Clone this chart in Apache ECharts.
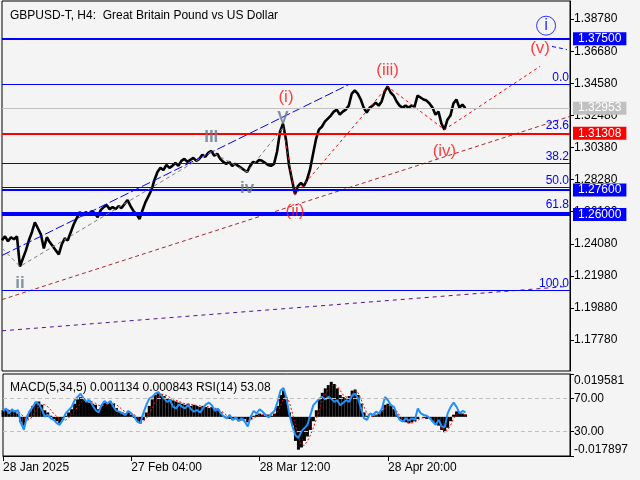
<!DOCTYPE html>
<html><head><meta charset="utf-8">
<script src="https://cdn.jsdelivr.net/npm/echarts@6/dist/echarts.min.js"></script>
<style>html,body{margin:0;padding:0;background:#f4f4f4}#c{width:640px;height:480px}</style>
</head><body><div id="c"></div>
<script>
const titleText = 'GBPUSD-T, H4:  Great Britain Pound vs US Dollar';
const indicatorText = 'MACD(5,34,5) 0.001134 0.000843 RSI(14) 53.08';
const categoryCount = 191;
const timeLabels = ['28 Jan 2025', '27 Feb 04:00', '28 Mar 12:00', '28 Apr 20:00'];
const timeLabelIdx = [0, 43, 86, 129];
const priceTicks = [1.17780, 1.19880, 1.21980, 1.24080, 1.26180, 1.28280, 1.30380, 1.32480, 1.34580, 1.36680, 1.38780];
const priceRange = [1.15761, 1.39964];
const rsiTicks = [30, 70];
const macdRange = [-0.017897, 0.019581];
const macdLabelAt = [-0.015155, 0.016382];

const price = [1.2431,1.2457,1.2425,1.2451,1.2438,1.2457,1.2260,1.2313,1.2365,1.2431,
1.2484,1.2549,1.2510,1.2470,1.2378,1.2451,1.2418,1.2392,1.2365,1.2339,
1.2405,1.2444,1.2431,1.2484,1.2536,1.2576,1.2615,1.2595,1.2615,1.2602,
1.2622,1.2609,1.2582,1.2628,1.2648,1.2661,1.2635,1.2648,1.2635,1.2655,
1.2642,1.2668,1.2694,1.2655,1.2622,1.2602,1.2569,1.2628,1.2681,1.2720,
1.2760,1.2826,1.2878,1.2905,1.2891,1.2924,1.2905,1.2918,1.2938,1.2918,
1.2951,1.2964,1.2944,1.2957,1.2970,1.2951,1.2964,1.2990,1.2977,1.3003,
1.3016,1.2984,1.2997,1.2964,1.2944,1.2931,1.2944,1.2918,1.2931,1.2918,
1.2905,1.2891,1.2878,1.2918,1.2944,1.2938,1.2957,1.2951,1.2938,1.2924,
1.2918,1.2931,1.3010,1.3141,1.3194,1.3089,1.2924,1.2826,1.2734,1.2786,
1.2806,1.2786,1.2826,1.2891,1.2990,1.3089,1.3155,1.3174,1.3207,1.3227,
1.3247,1.3273,1.3286,1.3253,1.3273,1.3286,1.3312,1.3391,1.3411,1.3391,
1.3352,1.3299,1.3266,1.3299,1.3312,1.3332,1.3312,1.3339,1.3404,1.3437,
1.3398,1.3378,1.3339,1.3312,1.3299,1.3312,1.3299,1.3312,1.3306,1.3378,
1.3365,1.3352,1.3345,1.3326,1.3299,1.3253,1.3273,1.3194,1.3155,1.3220,
1.3247,1.3326,1.3352,1.3299,1.3319,1.32953];

const macd = [0.0030,0.0035,0.0030,0.0025,0.0028,0.0015,-0.0025,-0.0040,-0.0010,0.0025,
0.0050,0.0065,0.0070,0.0055,0.0030,0.0020,0.0005,-0.0010,-0.0020,-0.0030,
-0.0015,0.0005,0.0020,0.0035,0.0060,0.0080,0.0090,0.0085,0.0070,0.0065,
0.0060,0.0055,0.0035,0.0050,0.0065,0.0060,0.0070,0.0060,0.0040,0.0025,
0.0020,0.0015,0.0020,0.0010,-0.0005,-0.0020,-0.0030,-0.0015,0.0020,0.0050,
0.0080,0.0100,0.0110,0.0105,0.0095,0.0085,0.0080,0.0075,0.0070,0.0065,
0.0060,0.0055,0.0060,0.0050,0.0055,0.0050,0.0045,0.0050,0.0045,0.0040,
0.0045,0.0035,0.0030,0.0020,0.0005,-0.0005,-0.0010,-0.0015,-0.0010,-0.0020,
-0.0015,-0.0010,-0.0025,-0.0010,0.0005,0.0010,0.0015,0.0010,0.0005,0.0010,
0.0005,0.0015,0.0050,0.0100,0.0120,0.0080,0.0020,-0.0040,-0.0110,-0.0150,
-0.0140,-0.0110,-0.0090,-0.0060,-0.0020,0.0030,0.0080,0.0110,0.0130,0.0145,
0.0160,0.0150,0.0130,0.0100,0.0090,0.0085,0.0095,0.0120,0.0125,0.0100,
0.0060,0.0020,0.0005,0.0000,0.0005,0.0010,0.0015,0.0030,0.0055,0.0060,
0.0050,0.0035,0.0010,-0.0010,-0.0020,-0.0025,-0.0030,-0.0025,-0.0020,-0.0010,
0.0000,-0.0005,-0.0010,-0.0005,-0.0020,-0.0030,-0.0040,-0.0060,-0.0070,-0.0050,
-0.0020,0.0010,0.0025,0.0020,0.0015,0.001134];

const signal = [0.0032,0.0031,0.0032,0.0030,0.0028,0.0026,0.0015,-0.0003,-0.0015,-0.0012,
0.0005,0.0025,0.0045,0.0058,0.0055,0.0046,0.0032,0.0015,0.0002,-0.0012,
-0.0018,-0.0015,-0.0005,0.0010,0.0025,0.0045,0.0065,0.0078,0.0080,0.0075,
0.0068,0.0062,0.0053,0.0050,0.0052,0.0056,0.0062,0.0064,0.0056,0.0045,
0.0032,0.0023,0.0020,0.0016,0.0010,-0.0002,-0.0015,-0.0020,-0.0008,0.0015,
0.0040,0.0068,0.0090,0.0102,0.0102,0.0096,0.0088,0.0082,0.0076,0.0070,
0.0065,0.0060,0.0058,0.0056,0.0054,0.0052,0.0050,0.0048,0.0048,0.0045,
0.0043,0.0040,0.0035,0.0028,0.0018,0.0006,-0.0003,-0.0009,-0.0012,-0.0014,
-0.0016,-0.0014,-0.0016,-0.0015,-0.0006,0.0002,0.0008,0.0010,0.0009,0.0008,
0.0008,0.0009,0.0022,0.0050,0.0085,0.0095,0.0065,0.0015,-0.0040,-0.0095,
-0.0130,-0.0130,-0.0110,-0.0085,-0.0050,-0.0010,0.0030,0.0075,0.0105,0.0125,
0.0140,0.0150,0.0140,0.0120,0.0100,0.0090,0.0090,0.0105,0.0120,0.0110,
0.0080,0.0045,0.0015,0.0005,0.0003,0.0006,0.0010,0.0020,0.0038,0.0052,
0.0055,0.0045,0.0025,0.0005,-0.0010,-0.0020,-0.0026,-0.0028,-0.0024,-0.0016,
-0.0006,-0.0004,-0.0006,-0.0008,-0.0013,-0.0023,-0.0033,-0.0048,-0.0062,-0.0060,
-0.0038,-0.0008,0.0012,0.0018,0.0012,0.000843];

const rsi = [55,58,52,57,54,56,40,32,48,55,
60,66,63,57,48,50,46,44,40,38,
44,52,56,60,68,72,76,70,66,68,
62,56,53,62,67,64,67,60,55,54,
52,50,55,52,48,42,40,52,62,70,
72,76,78,74,70,66,68,60,58,63,
60,58,62,57,54,56,53,58,63,65,
62,55,58,52,48,46,50,44,47,43,
46,42,36,48,55,52,57,54,50,47,
52,55,66,80,83,70,50,36,25,22,
30,34,38,50,62,66,70,72,69,72,
70,66,68,62,65,68,66,74,76,70,
58,46,44,52,50,54,52,58,72,68,
62,60,50,44,42,46,43,46,44,58,
52,50,49,46,42,38,44,36,35,52,
60,65,60,52,55,53.08];

// Fibonacci retracement
const fibHigh = 1.3450, fibLow = 1.2102;
const fibLevels = [0, 23.6, 38.2, 50, 61.8, 100];
// Horizontal price levels
const levelValues = [1.37500, 1.32953, 1.31308, 1.27600, 1.26000];
// Wave markup (category index, price)
const minorWave = [[0, 1.2380], [6, 1.2260], [70, 1.3010], [82, 1.2878], [94, 1.3168]];
const minorLabels = ['ii', 'III', 'iv', 'V'];
const minorLabelPts = [[6, 1.2148], [70, 1.3105], [82, 1.2770], [94, 1.3230]];
const intermWave = [[94, 1.3168], [98, 1.2727], [129, 1.3437], [148, 1.3155], [180, 1.3569]];
const intermLabels = ['(i)', '(ii)', '(iii)', '(iv)', '(v)'];
const intermLabelPts = [[95, 1.3368], [98, 1.2620], [129, 1.3540], [148, 1.3014], [180, 1.3684]];
const primaryLabel = 'i';
const primaryLabelPt = [182, 1.3835];
const nextWave = [[184, 1.3699], [189, 1.3679]];
const channelLine = [[0, 1.2332], [116, 1.3450]];
const trendLine1 = [[0, 1.2043], [190, 1.3242]];
const trendLine2 = [[0, 1.1839], [189, 1.2129]];

const FONT = 'Liberation Sans';
const categories = Array.from({length: categoryCount}, (_, i) => i);
const levelStyles = [
  {color: '#0000ff', width: 2, bg: '#0000ff'},
  {color: '#c0c0c0', width: 1, bg: '#c0c0c0'},
  {color: '#ff0000', width: 2, bg: '#ff0000'},
  {color: '#0000ff', width: 2, bg: '#0000ff'},
  {color: '#0000ff', width: 3, bg: '#0000ff'}
];

const chart = echarts.init(document.getElementById('c'), null, {renderer: 'canvas'});
const plain = (data, color, type, width, z) => ({
  type: 'line', xAxisIndex: 0, yAxisIndex: 0, data, symbol: 'none', silent: true, z: z || 4,
  lineStyle: {color, type, width: width || 1}, animation: false
});

const option = {
  backgroundColor: '#f4f4f4',
  animation: false,
  textStyle: {fontFamily: FONT},
  title: [
    {text: titleText, left: 5, top: 5, textStyle: {fontSize: 12, fontWeight: 'normal', color: '#000', fontFamily: FONT}},
    {text: indicatorText, left: 5, top: 377, textStyle: {fontSize: 12, fontWeight: 'normal', color: '#000', fontFamily: FONT}}
  ],
  grid: [
    {left: 2, right: 70, top: 1, height: 370, show: true, borderColor: '#000', borderWidth: 1, backgroundColor: 'transparent'},
    {left: 2, right: 70, top: 374, height: 82, show: true, borderColor: '#000', borderWidth: 1, backgroundColor: 'transparent'}
  ],
  xAxis: [
    {type: 'category', gridIndex: 0, data: categories, boundaryGap: false, show: false},
    {type: 'category', gridIndex: 1, data: categories, boundaryGap: false,
      axisLine: {show: true, lineStyle: {color: '#000'}},
      axisTick: {show: true, length: 5, lineStyle: {color: '#000'}, interval: (i) => timeLabelIdx.includes(i)},
      axisLabel: {show: true, interval: (i) => timeLabelIdx.includes(i), align: 'left', margin: 6,
        color: '#000', fontSize: 12, fontFamily: FONT,
        formatter: (v, i) => timeLabels[timeLabelIdx.indexOf(i)] || ''},
      splitLine: {show: false}}
  ],
  yAxis: [
    {type: 'value', gridIndex: 0, position: 'right', min: priceRange[0], max: priceRange[1],
      axisLine: {show: true, lineStyle: {color: '#000'}},
      axisTick: {show: true, length: 4, lineStyle: {color: '#000'}, customValues: priceTicks},
      axisLabel: {show: true, customValues: priceTicks, margin: 4, color: '#000', fontSize: 12, fontFamily: FONT,
        formatter: (v) => v.toFixed(5)},
      splitLine: {show: false}},
    {type: 'value', gridIndex: 1, position: 'right', min: 0, max: 100,
      axisLine: {show: true, lineStyle: {color: '#000'}},
      axisTick: {show: true, length: 4, lineStyle: {color: '#000'}, customValues: rsiTicks},
      axisLabel: {show: true, customValues: rsiTicks, margin: 4, color: '#000', fontSize: 12, fontFamily: FONT,
        formatter: (v) => v.toFixed(2)},
      splitLine: {show: false}},
    {type: 'value', gridIndex: 1, position: 'right', min: macdRange[0], max: macdRange[1],
      axisLine: {show: false},
      axisTick: {show: true, length: 4, lineStyle: {color: '#000'}, customValues: macdRange},
      axisLabel: {show: true, customValues: macdLabelAt, margin: 4, color: '#000', fontSize: 12, fontFamily: FONT,
        formatter: (v) => (v > 0 ? macdRange[1] : macdRange[0]).toFixed(6)},
      splitLine: {show: false}}
  ],
  series: [
    // price
    {type: 'line', xAxisIndex: 0, yAxisIndex: 0, data: price, symbol: 'none', z: 2, silent: true,
      lineStyle: {color: '#000', width: 2.6}},
    // fibonacci + horizontal levels
    {type: 'line', xAxisIndex: 0, yAxisIndex: 0, data: [], z: 3, silent: true,
      markLine: {silent: true, symbol: ['none', 'none'], animation: false, precision: 6,
        data: fibLevels.map(l => ({
          yAxis: fibHigh - (fibHigh - fibLow) * l / 100,
          lineStyle: {color: '#0000ff', width: 1, type: 'solid'},
          label: {show: true, position: 'insideEndTop', formatter: l.toFixed(1), color: '#0000ff',
            fontSize: 12, fontFamily: FONT, distance: [1, 1]}
        })).concat(levelValues.map((v, k) => ({
          yAxis: v,
          lineStyle: {color: levelStyles[k].color, width: levelStyles[k].width, type: 'solid'},
          label: {show: true, position: 'end', formatter: v.toFixed(5), color: '#fff',
            backgroundColor: levelStyles[k].bg, padding: [1, 5, 0, 5], fontSize: 12, fontFamily: FONT, distance: 3}
        })))}},
    plain(trendLine2, '#55128c', [4, 4], 1, 3),
    plain(trendLine1, '#a52a2a', [4, 3], 1, 3),
    plain(channelLine, '#0000ff', [9, 3], 1, 3),
    plain(intermWave, '#ff0000', [3, 3], 1, 4),
    plain(nextWave, '#0000ff', [4, 3], 1, 4),
    {type: 'line', xAxisIndex: 0, yAxisIndex: 0, silent: true, z: 5,
      data: minorWave.map((p, k) => k === 0 ? {value: p, symbol: 'none'} : {value: p}),
      symbol: 'rect', symbolSize: 6,
      itemStyle: {color: '#555', borderColor: '#000', borderWidth: 1},
      lineStyle: {color: '#808080', type: [4, 3], width: 1}},
    // labels
    {type: 'scatter', xAxisIndex: 0, yAxisIndex: 0, silent: true, z: 6, symbolSize: 1,
      itemStyle: {color: 'transparent'},
      data: minorLabelPts.map((p, k) => ({value: p, label: {formatter: minorLabels[k]}})),
      label: {show: true, position: 'inside', color: '#687888', fontSize: 17, fontWeight: 'bold', fontFamily: FONT}},
    {type: 'scatter', xAxisIndex: 0, yAxisIndex: 0, silent: true, z: 6, symbolSize: 1,
      itemStyle: {color: 'transparent'},
      data: intermLabelPts.map((p, k) => ({value: p, label: {formatter: intermLabels[k]}})),
      label: {show: true, position: 'inside', color: '#ff1010', fontSize: 17, fontFamily: FONT}},
    {type: 'scatter', xAxisIndex: 0, yAxisIndex: 0, silent: true, z: 6, symbolSize: 1,
      itemStyle: {color: 'transparent'},
      data: [{value: primaryLabelPt, label: {formatter: primaryLabel}}],
      label: {show: true, position: 'inside', color: '#0000ff', fontSize: 17, fontFamily: FONT,
        borderColor: '#0000ff', borderWidth: 1, borderRadius: 10, width: 19, height: 19, lineHeight: 19, align: 'center'}},
    // MACD panel
    {type: 'bar', xAxisIndex: 1, yAxisIndex: 2, data: macd, barWidth: 3, silent: true, z: 2,
      itemStyle: {color: '#000'}},
    {type: 'line', xAxisIndex: 1, yAxisIndex: 2, data: signal, symbol: 'none', silent: true, z: 3,
      lineStyle: {color: '#ff0000', width: 1, type: [2, 2]}},
    {type: 'line', xAxisIndex: 1, yAxisIndex: 1, data: rsi, symbol: 'none', silent: true, z: 4,
      lineStyle: {color: '#1e90ff', width: 2},
      markLine: {silent: true, symbol: ['none', 'none'], label: {show: false},
        lineStyle: {color: '#c0c0c0', type: [4, 3], width: 1},
        data: rsiTicks.map(v => ({yAxis: v}))}}
  ]
};
chart.setOption(option);
</script>
</body></html>
